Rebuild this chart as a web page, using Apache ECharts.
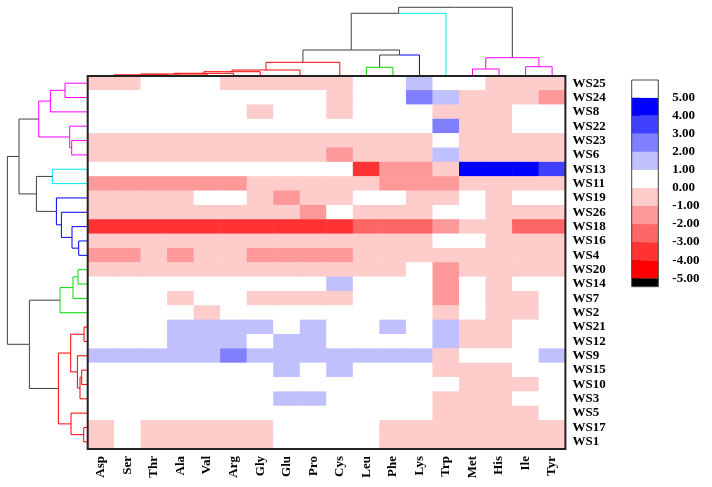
<!DOCTYPE html>
<html>
<head>
<meta charset="utf-8">
<script src="https://cdn.jsdelivr.net/npm/echarts@6/dist/echarts.min.js"></script>
<style>
  html, body { margin: 0; padding: 0; background: #fff; }
  #main { width: 712px; height: 487px; }
</style>
</head>
<body>
<div id="main"></div>
<script>
// columns and rows in the order the clustering put them
var acids = ['Asp', 'Ser', 'Thr', 'Ala', 'Val', 'Arg', 'Gly', 'Glu', 'Pro', 'Cys', 'Leu', 'Phe', 'Lys', 'Trp', 'Met', 'His', 'Ile', 'Tyr'];
var samples = ['WS25', 'WS24', 'WS8', 'WS22', 'WS23', 'WS6', 'WS13', 'WS11', 'WS19', 'WS26', 'WS18', 'WS16', 'WS4',
  'WS20', 'WS14', 'WS7', 'WS2', 'WS21', 'WS12', 'WS9', 'WS15', 'WS10', 'WS3', 'WS5', 'WS17', 'WS1'];

// one row per sample, one value per amino acid
var values = [
  [-0.5, -0.5, 0.5, 0.5, 0.5, -0.5, -0.5, -0.5, -0.5, -0.5, 0.5, 0.5, 1.5, 0.5, 0.5, -0.5, -0.5, -0.5],
  [0.5, 0.5, 0.5, 0.5, 0.5, 0.5, 0.5, 0.5, 0.5, -0.5, 0.5, 0.5, 2.5, 1.5, -0.5, -0.5, -0.5, -1.5],
  [0.5, 0.5, 0.5, 0.5, 0.5, 0.5, -0.5, 0.5, 0.5, -0.5, 0.5, 0.5, 0.5, -0.5, -0.5, -0.5, 0.5, 0.5],
  [0.5, 0.5, 0.5, 0.5, 0.5, 0.5, 0.5, 0.5, 0.5, 0.5, 0.5, 0.5, 0.5, 2.5, -0.5, -0.5, 0.5, 0.5],
  [-0.5, -0.5, -0.5, -0.5, -0.5, -0.5, -0.5, -0.5, -0.5, -0.5, -0.5, -0.5, -0.5, 0.5, -0.5, -0.5, -0.5, -0.5],
  [-0.5, -0.5, -0.5, -0.5, -0.5, -0.5, -0.5, -0.5, -0.5, -1.5, -0.5, -0.5, -0.5, 1.5, -0.5, -0.5, -0.5, -0.5],
  [0.5, 0.5, 0.5, 0.5, 0.5, 0.5, 0.5, 0.5, 0.5, 0.5, -3.5, -1.5, -1.5, -0.5, 4.5, 4.5, 4.5, 3.5],
  [-1.5, -1.5, -1.5, -1.5, -1.5, -1.5, -0.5, -0.5, -0.5, -0.5, -0.5, -1.5, -1.5, -1.5, -0.5, -0.5, -0.5, -0.5],
  [-0.5, -0.5, -0.5, -0.5, 0.5, 0.5, -0.5, -1.5, -0.5, -0.5, 0.5, 0.5, -0.5, -0.5, 0.5, -0.5, 0.5, 0.5],
  [-0.5, -0.5, -0.5, -0.5, -0.5, -0.5, -0.5, -0.5, -1.5, 0.5, -0.5, -0.5, -0.5, 0.5, 0.5, -0.5, -0.5, -0.5],
  [-3.5, -3.5, -3.5, -3.5, -3.5, -3.5, -3.5, -3.5, -3.5, -3.5, -2.5, -2.5, -2.5, -1.5, -0.5, -0.5, -2.5, -2.5],
  [-0.5, -0.5, -0.5, -0.5, -0.5, -0.5, -0.5, -0.5, -0.5, -0.5, -0.5, -0.5, -0.5, 0.5, 0.5, -0.5, -0.5, -0.5],
  [-1.5, -1.5, -0.5, -1.5, -0.5, -0.5, -1.5, -1.5, -1.5, -1.5, -0.5, -0.5, -0.5, -0.5, -0.5, -0.5, -0.5, -0.5],
  [-0.5, -0.5, -0.5, -0.5, -0.5, -0.5, -0.5, -0.5, -0.5, -0.5, -0.5, -0.5, 0.5, -1.5, -0.5, -0.5, -0.5, -0.5],
  [0.5, 0.5, 0.5, 0.5, 0.5, 0.5, 0.5, 0.5, 0.5, 1.5, 0.5, 0.5, 0.5, -1.5, 0.5, -0.5, 0.5, 0.5],
  [0.5, 0.5, 0.5, -0.5, 0.5, 0.5, -0.5, -0.5, -0.5, -0.5, 0.5, 0.5, 0.5, -1.5, 0.5, -0.5, -0.5, 0.5],
  [0.5, 0.5, 0.5, 0.5, -0.5, 0.5, 0.5, 0.5, 0.5, 0.5, 0.5, 0.5, 0.5, -0.5, 0.5, -0.5, -0.5, 0.5],
  [0.5, 0.5, 0.5, 1.5, 1.5, 1.5, 1.5, 0.5, 1.5, 0.5, 0.5, 1.5, 0.5, 1.5, -0.5, -0.5, 0.5, 0.5],
  [0.5, 0.5, 0.5, 1.5, 1.5, 1.5, 0.5, 1.5, 1.5, 0.5, 0.5, 0.5, 0.5, 1.5, -0.5, -0.5, 0.5, 0.5],
  [1.5, 1.5, 1.5, 1.5, 1.5, 2.5, 1.5, 1.5, 1.5, 1.5, 1.5, 1.5, 1.5, -0.5, 0.5, 0.5, 0.5, 1.5],
  [0.5, 0.5, 0.5, 0.5, 0.5, 0.5, 0.5, 1.5, 0.5, 1.5, 0.5, 0.5, 0.5, -0.5, -0.5, -0.5, 0.5, 0.5],
  [0.5, 0.5, 0.5, 0.5, 0.5, 0.5, 0.5, 0.5, 0.5, 0.5, 0.5, 0.5, 0.5, 0.5, -0.5, -0.5, -0.5, 0.5],
  [0.5, 0.5, 0.5, 0.5, 0.5, 0.5, 0.5, 1.5, 1.5, 0.5, 0.5, 0.5, 0.5, -0.5, -0.5, -0.5, 0.5, 0.5],
  [0.5, 0.5, 0.5, 0.5, 0.5, 0.5, 0.5, 0.5, 0.5, 0.5, 0.5, 0.5, 0.5, -0.5, -0.5, -0.5, -0.5, 0.5],
  [-0.5, 0.5, -0.5, -0.5, -0.5, -0.5, -0.5, 0.5, 0.5, 0.5, 0.5, -0.5, -0.5, -0.5, -0.5, -0.5, -0.5, -0.5],
  [-0.5, 0.5, -0.5, -0.5, -0.5, -0.5, -0.5, 0.5, 0.5, 0.5, 0.5, -0.5, -0.5, -0.5, -0.5, -0.5, -0.5, -0.5]
];

// colour key break points, and the two end caps of the key
var levels = [-5, -4, -3, -2, -1, 0, 1, 2, 3, 4, 5];
var keyEnds = [-5.47, 5.98];
var levelColors = ['#000000', '#ff0000', '#ff3333', '#ff6666', '#ff9999', '#ffcccc', '#ffffff',
  '#c0c0ff', '#8080ff', '#4040ff', '#0000ff', '#ffffff'];

// dendrograms: [left, right, height]; ids below leaf count are leaves, then merges in order
var colMerges = [
  [0, 1, 0.5], [2, 3, 0.8], [18, 19, 1.2], [20, 4, 2.0], [21, 5, 2.7], [22, 6, 4.3], [7, 8, 0.3],
  [23, 24, 6.0], [25, 9, 13.7], [10, 11, 8.7], [27, 12, 21], [26, 28, 26], [29, 13, 62.7],
  [14, 15, 7], [16, 17, 9.3], [31, 32, 18.3], [30, 33, 68.7]
];
var colLeafCluster = [1, 1, 1, 1, 1, 1, 1, 1, 1, 1, 2, 2, 3, 4, 5, 5, 5, 5];
var colMergeCluster = [1, 1, 1, 1, 1, 1, 1, 1, 0, 0, 0, 0, 0, 5, 5, 0, 0];

var rowMerges = [
  [0, 1, 22.7], [26, 2, 37.3], [4, 5, 16], [3, 28, 18], [27, 29, 49], [6, 7, 35.3],
  [11, 12, 9], [10, 32, 15.7], [9, 33, 26.3], [8, 34, 31.3], [31, 35, 51.3], [30, 36, 68.7],
  [13, 14, 9.7], [38, 15, 14.7], [39, 16, 27.7],
  [17, 18, 3.7], [20, 21, 6], [42, 22, 7.7], [19, 43, 10.3], [41, 44, 17], [24, 25, 4], [23, 46, 16.7],
  [45, 47, 29.3], [40, 48, 58.3], [37, 49, 80.3]
];
var rowLeafCluster = [5, 5, 5, 5, 5, 5, 4, 4, 3, 3, 3, 3, 3, 2, 2, 2, 2, 1, 1, 1, 1, 1, 1, 1, 1, 1];
var rowMergeCluster = [5, 5, 5, 5, 0, 0, 3, 3, 3, 0, 0, 0, 2, 2, 0, 1, 1, 1, 1, 1, 1, 1, 0, 0, 0];

var clusterColors = ['#404040', '#ff0000', '#00dd00', '#0000ff', '#00e8e8', '#ff00ff'];

var font = '"Times New Roman", "Liberation Serif", serif';

var cells = [];
values.forEach(function (row, r) {
  row.forEach(function (v, c) {
    cells.push([c, r, v]);
  });
});

var pieces = [{ lte: levels[0], color: levelColors[0] }];
for (var i = 0; i < levels.length - 1; i++) {
  pieces.push({ gt: levels[i], lte: levels[i + 1], color: levelColors[i + 1] });
}
pieces.push({ gt: levels[levels.length - 1], color: levelColors[levelColors.length - 1] });

// bands of the key: [low, high, mid]
var keyBounds = [keyEnds[0]].concat(levels, [keyEnds[1]]);
var keyBands = [];
for (var k = 0; k < keyBounds.length - 1; k++) {
  keyBands.push([keyBounds[k], keyBounds[k + 1], (keyBounds[k] + keyBounds[k + 1]) / 2]);
}

// turn a merge list into elbow polylines; each branch takes the colour of the child it leaves
function dendroLines(merges, leafCluster, mergeCluster, sideways) {
  var n = leafCluster.length;
  var pos = [], h = [], cl = [];
  for (var i = 0; i < n; i++) {
    pos[i] = i + 0.5;
    h[i] = 0;
    cl[i] = leafCluster[i];
  }
  var out = [];
  merges.forEach(function (m, j) {
    var id = n + j;
    pos[id] = (pos[m[0]] + pos[m[1]]) / 2;
    h[id] = m[2];
    cl[id] = mergeCluster[j];
    [m[0], m[1]].forEach(function (c) {
      var pts = [[pos[c], h[c]], [pos[c], m[2]], [pos[id], m[2]]];
      if (sideways) {
        pts = pts.map(function (p) { return [p[1], p[0]]; });
      }
      out.push({ coords: pts, lineStyle: { color: clusterColors[cl[c]] } });
    });
  });
  return out;
}

var chart = echarts.init(document.getElementById('main'));

var option = {
  animation: false,
  backgroundColor: '#fff',
  grid: [
    { left: 87.7, top: 76, width: 477.7, height: 373, show: true, borderColor: '#222', borderWidth: 2, z: 10, backgroundColor: 'transparent' },
    { left: 87.7, top: 0, width: 477.7, height: 76 },
    { left: 0, top: 76, width: 87.7, height: 373 },
    { left: 631.7, top: 80, width: 26.6, height: 206.7, show: true, borderColor: '#444', borderWidth: 1, z: 10, backgroundColor: 'transparent' }
  ],
  xAxis: [
    {
      type: 'category', gridIndex: 0, data: acids, position: 'bottom',
      axisLine: { show: false }, axisTick: { show: false },
      axisLabel: { interval: 0, rotate: 90, margin: 7, color: '#000', fontFamily: font, fontWeight: 'bold', fontSize: 13 }
    },
    { type: 'value', gridIndex: 1, min: 0, max: acids.length, show: false },
    { type: 'value', gridIndex: 2, min: 0, max: 87.7, inverse: true, show: false },
    { type: 'value', gridIndex: 3, min: 0, max: 1, show: false }
  ],
  yAxis: [
    {
      type: 'category', gridIndex: 0, data: samples, inverse: true, position: 'right',
      axisLine: { show: false }, axisTick: { show: false },
      axisLabel: { interval: 0, margin: 7, color: '#000', fontFamily: font, fontWeight: 'bold', fontSize: 13 }
    },
    { type: 'value', gridIndex: 1, min: 0, max: 76, show: false },
    { type: 'value', gridIndex: 2, min: 0, max: samples.length, inverse: true, show: false },
    {
      type: 'value', gridIndex: 3, min: keyEnds[0], max: keyEnds[1], position: 'right',
      splitLine: { show: false },
      axisLine: { show: false },
      axisTick: { show: true, inside: false, length: 9, customValues: levels, lineStyle: { color: '#444', width: 1 } },
      axisLabel: {
        customValues: levels, margin: 14, color: '#000', fontFamily: font, fontWeight: 'bold', fontSize: 13,
        formatter: function (v) { return v.toFixed(2); }
      }
    }
  ],
  visualMap: {
    type: 'piecewise', show: false, dimension: 2, seriesIndex: [0, 3], pieces: pieces
  },
  series: [
    {
      type: 'heatmap', xAxisIndex: 0, yAxisIndex: 0, data: cells,
      itemStyle: { borderWidth: 0 }, emphasis: { disabled: true }
    },
    {
      type: 'lines', coordinateSystem: 'cartesian2d', xAxisIndex: 1, yAxisIndex: 1, polyline: true,
      lineStyle: { width: 1, opacity: 1 }, silent: true,
      data: dendroLines(colMerges, colLeafCluster, colMergeCluster, false)
    },
    {
      type: 'lines', coordinateSystem: 'cartesian2d', xAxisIndex: 2, yAxisIndex: 2, polyline: true,
      lineStyle: { width: 1, opacity: 1 }, silent: true,
      data: dendroLines(rowMerges, rowLeafCluster, rowMergeCluster, true)
    },
    {
      type: 'custom', xAxisIndex: 3, yAxisIndex: 3, silent: true,
      data: keyBands,
      encode: { y: [0, 1] },
      renderItem: function (params, api) {
        var a = api.coord([0, api.value(1)]);
        var b = api.coord([1, api.value(0)]);
        return {
          type: 'rect',
          shape: { x: a[0], y: a[1], width: b[0] - a[0], height: b[1] - a[1] },
          style: { fill: api.visual('color') }
        };
      }
    }
  ]
};

chart.setOption(option);
</script>
</body>
</html>
